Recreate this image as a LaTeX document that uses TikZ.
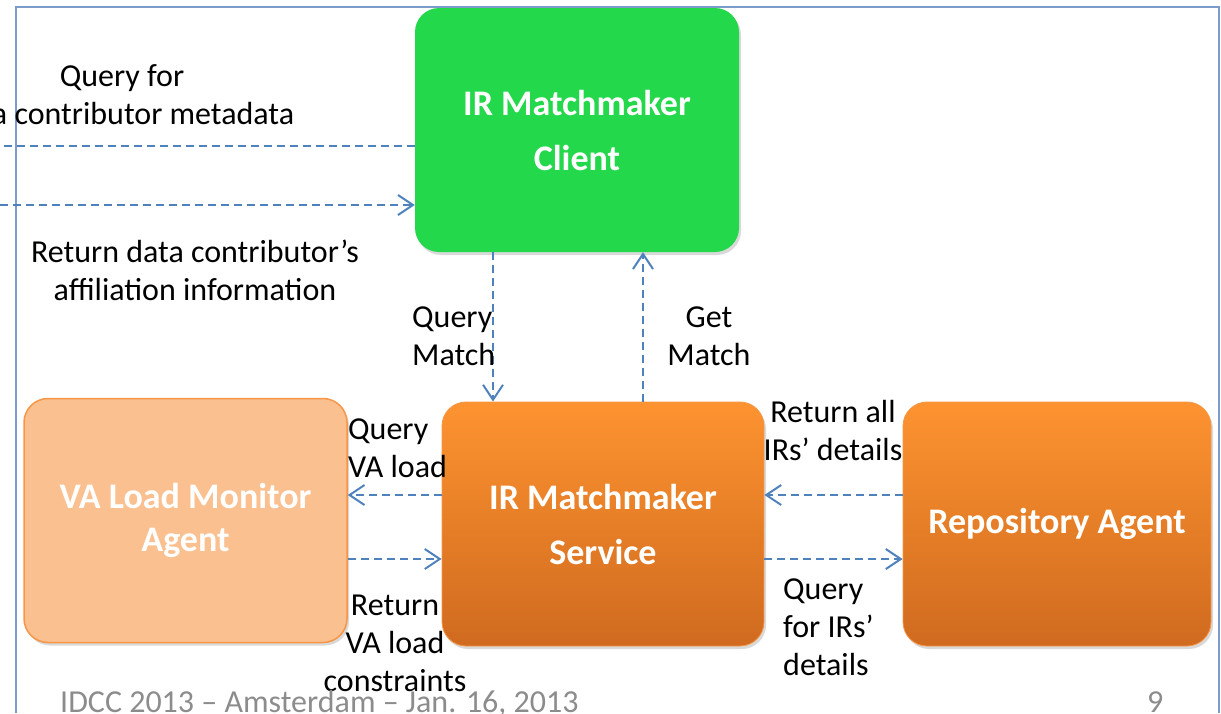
\documentclass[tikz,border=0pt]{standalone}
\usepackage{fontspec}
\setmainfont{Carlito}
\usetikzlibrary{arrows.meta,shadows}

\definecolor{linkblue}{HTML}{4F81BD}
\definecolor{framecol}{HTML}{7B9BCB}
\definecolor{clientgreen}{HTML}{23D84A}
\definecolor{orangetop}{HTML}{FD9330}
\definecolor{orangebot}{HTML}{D06A1F}
\definecolor{orangeline}{HTML}{F79646}
\definecolor{palefill}{HTML}{FAC090}
\definecolor{footgray}{HTML}{8C8C8C}

\tikzset{
  agent/.style={rectangle, rounded corners=24pt, minimum width=323pt, minimum height=244pt,
    inner sep=0pt, align=center, text=white, font=\fontsize{36}{55}\selectfont\bfseries,
    drop shadow={opacity=0.3, shadow xshift=2pt, shadow yshift=-3pt}},
  orangebox/.style={top color=orangetop, bottom color=orangebot, draw=orangeline, line width=0.8pt},
  flow/.style={draw=linkblue, line width=2pt, dash pattern=on 8pt off 5pt,
    -{Straight Barb[length=15pt,width=20pt]}},
  note/.style={inner sep=0pt, font=\fontsize{32}{38}\selectfont},
  footer/.style={inner sep=0pt, text=footgray, font=\fontsize{32}{38}\selectfont}
}

\begin{document}
\begin{tikzpicture}[x=1pt,y=-1pt]
    \useasboundingbox (0,0) rectangle (1221,713);
    % frame
    \draw[framecol, line width=2pt] (16,713) -- (16,7) -- (1219,7) -- (1219,713);

    \node[agent, fill=clientgreen, minimum width=324pt] (client) at (577,130) {IR Matchmaker\\Client};
    \node[agent, orangebox, minimum width=322pt] (service) at (603,524) {IR Matchmaker\\Service};
    \node[agent, fill=palefill, draw=orangeline, line width=1.5pt,
          font=\fontsize{36}{43}\selectfont\bfseries] (monitor) at (185.5,520.5) {VA Load Monitor\\Agent};
    \node[agent, orangebox, minimum width=308pt] (repo) at (1057,524) {Repository Agent};

    \coordinate (farleft1) at (0,146);
    \coordinate (farleft2) at (0,205);
    \coordinate (downx) at (493,0);
    \coordinate (upx) at (643,0);
    \coordinate (upper) at (0,495);
    \coordinate (lower) at (0,559);

    \draw[flow, -] (client.west |- farleft1) -- (farleft1);
    \draw[flow] (farleft2) -- (client.west |- farleft2);
    \draw[flow] (client.south -| downx) -- (service.north -| downx);
    \draw[flow] (service.north -| upx) -- (client.south -| upx);
    \draw[flow] (service.west |- upper) -- (monitor.east |- upper);
    \draw[flow] (monitor.east |- lower) -- (service.west |- lower);
    \draw[flow] (repo.west |- upper) -- (service.east |- upper);
    \draw[flow] (service.east |- lower) -- (repo.west |- lower);

    \node[note, anchor=north, align=center] (askmeta) at (122,64) {Query for\\data contributor metadata};
    \node[note, anchor=north, align=center] (giveaffil) at (195,240) {Return data contributor’s\\affiliation information};
    \node[note, anchor=north west, align=left] (askmatch) at (412,307) {Query\\Match};
    \node[note, anchor=north, align=center] (getmatch) at (709,307) {Get\\Match};
    \node[note, anchor=north west, align=left] (askload) at (348,419) {Query\\VA load};
    \node[note, anchor=north, align=center] (giveload) at (395,595) {Return\\VA load\\constraints};
    \node[note, anchor=north, align=center] (givedetails) at (833,400) {Return all\\IRs’ details};
    \node[note, anchor=north west, align=left] (askdetails) at (783,579) {Query\\for IRs’\\details};

    \node[footer, anchor=base west] (event) at (60,712) {IDCC 2013 – Amsterdam – Jan. 16, 2013};
    \node[footer, anchor=base west] (pageno) at (1147,712) {9};
\end{tikzpicture}
\end{document}
